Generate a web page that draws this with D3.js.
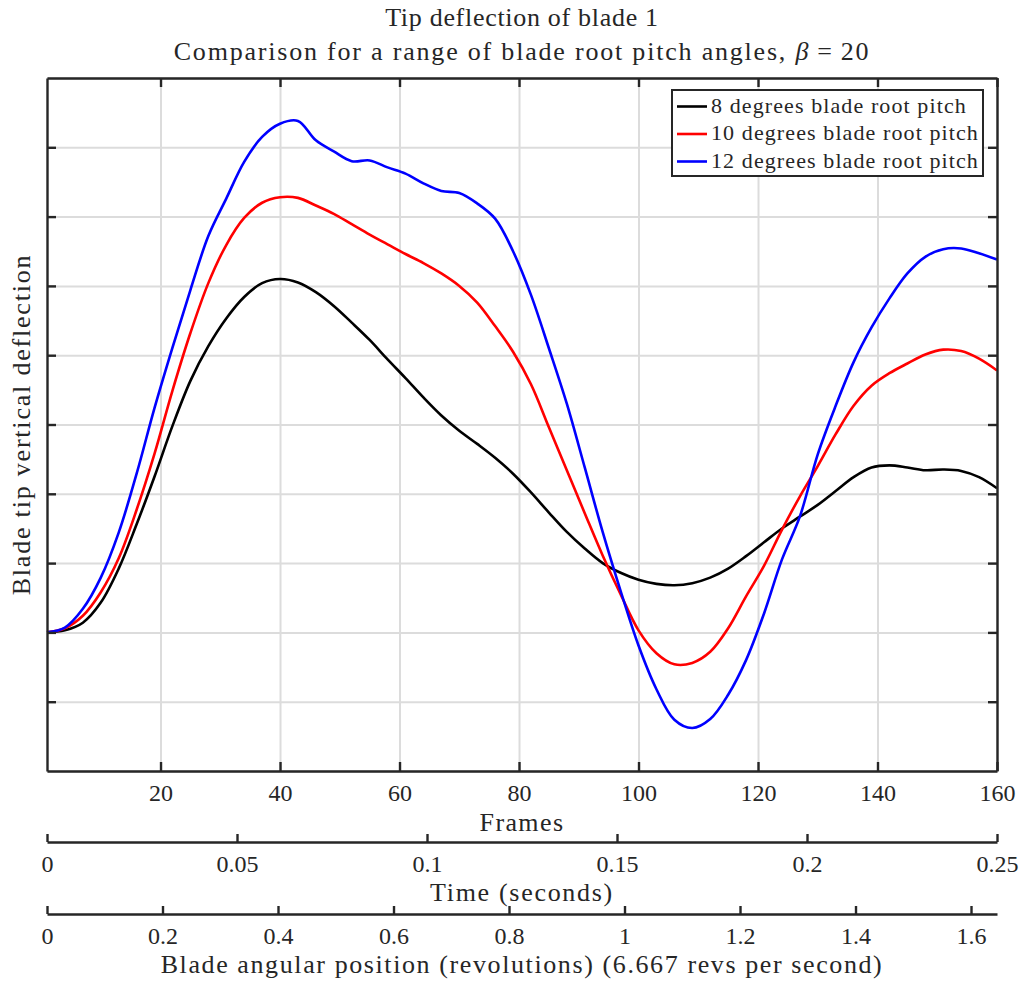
<!DOCTYPE html>
<html>
<head>
<meta charset="utf-8">
<script src="https://cdn.jsdelivr.net/npm/d3@7"></script>
<style>
  body { margin: 0; background: #fff; }
  svg text { font-family: "Liberation Serif", "DejaVu Serif", serif; fill: #262626; }
</style>
</head>
<body>
<svg id="chart" width="1021" height="982"></svg>
<script>
// frame numbers where the curves were sampled
const frames = [1, 4, 7, 10, 13, 16, 19, 22, 25, 28, 31, 34, 37, 40, 43, 46, 49, 52, 55, 58,
  61, 64, 67, 70, 73, 76, 79, 82, 85, 88, 91, 94, 97, 100, 103, 106, 109, 112, 115, 118,
  121, 124, 127, 130, 133, 136, 139, 142, 145, 148, 151, 154, 157, 160];

const pitch8 = [0, 0.03, 0.14, 0.43, 0.92, 1.56, 2.25, 2.98, 3.63, 4.13, 4.53, 4.84, 5.04, 5.10, 5.05, 4.91, 4.71, 4.47, 4.22, 3.94,
  3.67, 3.39, 3.13, 2.91, 2.72, 2.52, 2.29, 2.02, 1.73, 1.45, 1.21, 1.00, 0.86, 0.76, 0.70, 0.68, 0.71, 0.79, 0.92, 1.10,
  1.30, 1.50, 1.67, 1.84, 2.04, 2.24, 2.38, 2.41, 2.38, 2.34, 2.35, 2.33, 2.24, 2.08];

const pitch10 = [0, 0.06, 0.24, 0.58, 1.07, 1.77, 2.58, 3.49, 4.32, 5.04, 5.59, 5.98, 6.20, 6.28, 6.27, 6.16, 6.04, 5.89, 5.74, 5.60,
  5.46, 5.33, 5.18, 5.00, 4.76, 4.42, 4.05, 3.58, 2.96, 2.34, 1.72, 1.11, 0.55, 0.03, -0.30, -0.46, -0.44, -0.28, 0.06, 0.52,
  0.96, 1.48, 1.96, 2.40, 2.86, 3.27, 3.56, 3.74, 3.88, 4.01, 4.08, 4.06, 3.95, 3.78];

const pitch12 = [0, 0.07, 0.34, 0.79, 1.44, 2.29, 3.24, 4.11, 4.94, 5.72, 6.26, 6.79, 7.15, 7.34, 7.38, 7.10, 6.94, 6.80, 6.81, 6.71,
  6.62, 6.48, 6.37, 6.34, 6.19, 5.97, 5.50, 4.87, 4.10, 3.30, 2.38, 1.45, 0.60, -0.19, -0.82, -1.26, -1.38, -1.25, -0.90, -0.40,
  0.27, 1.05, 1.67, 2.57, 3.27, 3.90, 4.40, 4.82, 5.18, 5.42, 5.53, 5.54, 5.47, 5.38];

const seriesNames = ["8 degrees blade root pitch", "10 degrees blade root pitch", "12 degrees blade root pitch"];
const seriesColors = ["#000000", "#ff0000", "#0000ff"];

const frameTicks = [20, 40, 60, 80, 100, 120, 140, 160];
const timeTicks = [0, 0.05, 0.1, 0.15, 0.2, 0.25];
const revTicks = [0, 0.2, 0.4, 0.6, 0.8, 1, 1.2, 1.4, 1.6];
const yTicks = [-2, -1, 0, 1, 2, 3, 4, 5, 6, 7, 8];

const svg = d3.select("#chart");
const pl = 47, pr = 997, pt = 78, pb = 771;
const w = pr - pl, h = pb - pt;
const ink = "#262626";

const x = d3.scaleLinear().domain([1, 160]).range([pl, pr]);
const y = d3.scaleLinear().domain([-2, 8]).range([pb, pt]);
const xTime = d3.scaleLinear().domain([0, 0.25]).range([pl, pr]);
const xRev = d3.scaleLinear().domain([0, 1.645]).range([pl, pr]);

// grid
svg.append("g")
  .attr("transform", `translate(0,${pb})`)
  .call(d3.axisBottom(x).tickValues(frameTicks).tickSize(-h).tickFormat(""))
  .call(g => g.select(".domain").remove())
  .call(g => g.selectAll("line").attr("stroke", "#dcdcdc").attr("stroke-width", 2));
svg.append("g")
  .attr("transform", `translate(${pl},0)`)
  .call(d3.axisLeft(y).tickValues(yTicks).tickSize(-w).tickFormat(""))
  .call(g => g.select(".domain").remove())
  .call(g => g.selectAll("line").attr("stroke", "#dcdcdc").attr("stroke-width", 2));

// curves
const line = d3.line()
  .x((d, i) => x(frames[i]))
  .y(d => y(d))
  .curve(d3.curveCatmullRom.alpha(0.5));

[pitch8, pitch10, pitch12].forEach((vals, k) => {
  svg.append("path")
    .datum(vals)
    .attr("fill", "none")
    .attr("stroke", seriesColors[k])
    .attr("stroke-width", 2.6)
    .attr("d", line);
});

function styleAxis(g) {
  g.select(".domain").attr("stroke", ink).attr("stroke-width", 2.4);
  g.selectAll(".tick line").attr("stroke", ink).attr("stroke-width", 2.4);
  g.selectAll("text").style("font-size", "24px").attr("fill", ink);
}

// box axes with inward ticks
svg.append("g")
  .attr("transform", `translate(0,${pb})`)
  .call(d3.axisBottom(x).tickValues(frameTicks).tickSizeInner(-9).tickSizeOuter(0).tickPadding(13))
  .call(styleAxis);
svg.append("g")
  .attr("transform", `translate(0,${pt})`)
  .call(d3.axisTop(x).tickValues(frameTicks).tickSizeInner(-9).tickSizeOuter(0).tickFormat(""))
  .call(styleAxis);
svg.append("g")
  .attr("transform", `translate(${pl},0)`)
  .call(d3.axisLeft(y).tickValues(yTicks.slice(1, -1)).tickSizeInner(-9).tickSizeOuter(0).tickFormat(""))
  .call(styleAxis);
svg.append("g")
  .attr("transform", `translate(${pr},0)`)
  .call(d3.axisRight(y).tickValues(yTicks.slice(1, -1)).tickSizeInner(-9).tickSizeOuter(0).tickFormat(""))
  .call(styleAxis);

// secondary axes below
const timeY = 842, revY = 914;
svg.append("g")
  .attr("transform", `translate(0,${timeY})`)
  .call(d3.axisBottom(xTime).tickValues(timeTicks).tickSizeInner(-8).tickSizeOuter(0).tickPadding(13).tickFormat(d3.format("~g")))
  .call(styleAxis);
svg.append("g")
  .attr("transform", `translate(0,${revY})`)
  .call(d3.axisBottom(xRev).tickValues(revTicks).tickSizeInner(-8).tickSizeOuter(0).tickPadding(13).tickFormat(d3.format("~g")))
  .call(styleAxis);

// axis labels
const label = (txt, px, py, size, ls) => svg.append("text")
  .attr("x", px).attr("y", py).attr("text-anchor", "middle")
  .style("font-size", size + "px").style("letter-spacing", ls + "px").text(txt);

const cx = (pl + pr) / 2;
label("Frames", cx, 831, 26, 1.4);
label("Time (seconds)", cx, 901, 26, 1.7);
label("Blade angular position (revolutions) (6.667 revs per second)", cx, 973, 26, 1.6);

svg.append("text")
  .attr("transform", `translate(30,${(pt + pb) / 2}) rotate(-90)`)
  .attr("text-anchor", "middle")
  .style("font-size", "26px").style("letter-spacing", "1.8px")
  .text("Blade tip vertical deflection");

// title
label("Tip deflection of blade 1", cx, 26, 26, 0.7);
const t2 = svg.append("text")
  .attr("x", cx).attr("y", 60).attr("text-anchor", "middle")
  .style("font-size", "26px").style("letter-spacing", "1.8px");
t2.append("tspan").text("Comparison for a range of blade root pitch angles, ");
t2.append("tspan").style("font-style", "italic").text("β");
t2.append("tspan").attr("dx", 7).text("=");
t2.append("tspan").attr("dx", 7).text("20");

// legend
const lg = svg.append("g").attr("transform", "translate(672,90)");
lg.append("rect")
  .attr("width", 311).attr("height", 86)
  .attr("fill", "#fff").attr("stroke", ink).attr("stroke-width", 2);
seriesNames.forEach((name, k) => {
  const ry = 16.5 + k * 27.5;
  lg.append("line")
    .attr("x1", 5).attr("x2", 35).attr("y1", ry).attr("y2", ry)
    .attr("stroke", seriesColors[k]).attr("stroke-width", 2.6);
  lg.append("text")
    .attr("x", 39).attr("y", ry + 6)
    .style("font-size", "22px").style("letter-spacing", "1.1px")
    .text(name);
});
</script>
</body>
</html>
